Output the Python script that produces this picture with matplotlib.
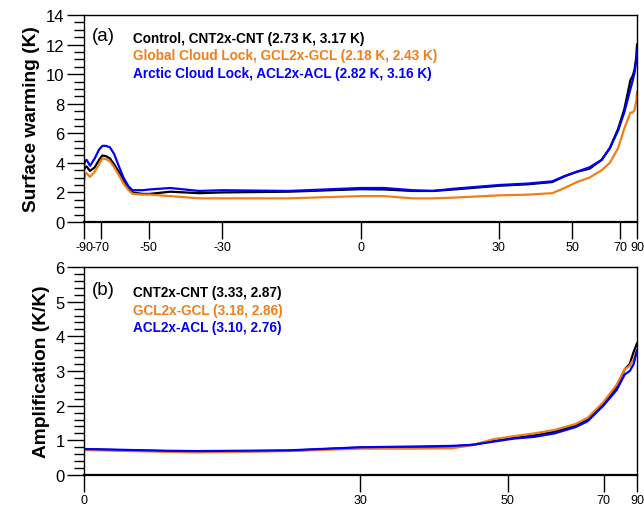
import numpy as np
import matplotlib
matplotlib.use('Agg')
import matplotlib.pyplot as plt

plt.rcParams['font.family'] = ['Liberation Sans', 'DejaVu Sans']

# Panel (a): surface warming (K) vs latitude
lat_a = [-90, -85, -82, -78, -74, -71, -69, -67, -65, -63, -61, -59, -57, -55.5,
         -52, -49.7, -43.5, -35.7, -30, -15, 0, 4.9, 10.9, 15.2, 19.7, 30, 37.2,
         43.9, 47.6, 51.5, 55.9, 60.7, 64.4, 68.7, 72.5, 77.5, 80, 82.3, 86, 90]
cnt_a = [3.5, 3.7, 3.75, 3.45, 3.7, 4.2, 4.5, 4.45, 4.3, 3.9, 3.4, 2.8, 2.3, 2.0,
         1.9, 1.9, 2.05, 1.95, 2.0, 2.05, 2.22, 2.2, 2.1, 2.1, 2.2, 2.45, 2.55,
         2.7, 3.1, 3.4, 3.6, 4.2, 5.0, 6.3, 7.6, 9.6, 9.9, 10.3, 11.2, 12.0]
gcl_a = [2.8, 3.2, 3.3, 3.05, 3.4, 3.9, 4.3, 4.25, 4.1, 3.7, 3.2, 2.6, 2.15, 1.9,
         1.85, 1.85, 1.75, 1.6, 1.6, 1.6, 1.75, 1.75, 1.6, 1.6, 1.65, 1.8, 1.85,
         1.95, 2.3, 2.7, 3.0, 3.5, 4.0, 5.0, 6.3, 7.4, 7.4, 7.6, 8.2, 8.8]
acl_a = [3.8, 4.1, 4.2, 3.8, 4.3, 4.9, 5.15, 5.15, 5.05, 4.6, 3.8, 3.0, 2.4, 2.15,
         2.15, 2.2, 2.3, 2.1, 2.15, 2.1, 2.3, 2.3, 2.15, 2.1, 2.25, 2.5, 2.6,
         2.75, 3.1, 3.4, 3.7, 4.2, 5.0, 6.2, 7.4, 9.0, 9.6, 10.1, 10.9, 11.6]

# Panel (b): polar amplification (K/K) vs latitude
lat_b = [0, 8.4, 11.8, 21.6, 30, 36.2, 41.7, 44.6, 47.7, 51, 54.5, 58.3, 62.7,
         65.6, 69.9, 74.4, 77.9, 80.7, 83.7, 90]
cnt_b = [0.74, 0.69, 0.67, 0.7, 0.79, 0.8, 0.82, 0.87, 0.98, 1.07, 1.14, 1.25, 1.43,
         1.6, 2.05, 2.55, 3.05, 3.2, 3.55, 3.8]
gcl_b = [0.72, 0.67, 0.65, 0.69, 0.76, 0.76, 0.77, 0.86, 1.03, 1.12, 1.2, 1.3, 1.47,
         1.65, 2.1, 2.6, 3.05, 3.15, 3.35, 3.6]
acl_b = [0.75, 0.7, 0.69, 0.71, 0.8, 0.82, 0.84, 0.87, 0.96, 1.05, 1.1, 1.2, 1.38,
         1.55, 2.0, 2.45, 2.9, 3.0, 3.2, 3.6]

labels_a = ['Control, CNT2x-CNT (2.73 K, 3.17 K)',
            'Global Cloud Lock, GCL2x-GCL (2.18 K, 2.43 K)',
            'Arctic Cloud Lock, ACL2x-ACL (2.82 K, 3.16 K)']
labels_b = ['CNT2x-CNT (3.33, 2.87)',
            'GCL2x-GCL (3.18, 2.86)',
            'ACL2x-ACL (3.10, 2.76)']
colors = ['black', '#F07F1A', '#0000FF']

ticks_a = [-90, -70, -50, -30, 0, 30, 50, 70, 90]
ticks_b = [0, 30, 50, 70, 90]


def fwd(x):
    return np.sin(np.deg2rad(x))


def inv(s):
    return np.rad2deg(np.arcsin(np.clip(s, -1, 1)))


fig = plt.figure(figsize=(6.44, 5.06), dpi=100)
W, H = 644, 506
ax1 = fig.add_axes([84 / W, 1 - 223 / H, 553 / W, 207 / H])
ax2 = fig.add_axes([84 / W, 1 - 476 / H, 553 / W, 208 / H])

for ax in (ax1, ax2):
    ax.set_xscale('function', functions=(fwd, inv))
    for sp in ax.spines.values():
        sp.set_linewidth(1.0)
    ax.spines['bottom'].set_linewidth(1.6)
    ax.tick_params(axis='both', which='major', direction='out', length=12, width=1.0)
    ax.tick_params(axis='y', which='minor', direction='out', length=7, width=1.0)
    ax.tick_params(axis='y', labelsize=12, pad=2)
    ax.tick_params(axis='x', labelsize=9, pad=2)
    ax.tick_params(axis='x', which='minor', bottom=False)

# panel (a)
for y, c in zip([cnt_a, gcl_a, acl_a], colors):
    ax1.plot(lat_a, y, color=c, lw=1.6)
ax1.set_xlim(-90, 90)
ax1.set_ylim(0, 14)
ax1.set_xticks(ticks_a)
ax1.set_xticklabels([str(t) for t in ticks_a])
ax1.set_yticks(np.arange(0, 15, 2))
ax1.set_yticks(np.arange(0, 14.01, 0.5), minor=True)
ax1.set_ylabel('Surface warming (K)', fontsize=13.8, fontweight='bold', labelpad=4)
ax1.text(0.015, 0.90, '(a)', transform=ax1.transAxes, fontsize=13.5, va='center')
for i, (lab, c) in enumerate(zip(labels_a, colors)):
    ax1.text(0.088, 0.89 - i * 0.085, lab, transform=ax1.transAxes, color=c,
             fontsize=9.8, fontweight='bold', va='center')

# panel (b)
for y, c in zip([cnt_b, gcl_b, acl_b], colors):
    ax2.plot(lat_b, y, color=c, lw=1.6)
ax2.set_xlim(0, 90)
ax2.set_ylim(0, 6)
ax2.set_xticks(ticks_b)
ax2.set_xticklabels([str(t) for t in ticks_b])
ax2.set_yticks(np.arange(0, 7, 1))
ax2.set_yticks(np.arange(0, 6.01, 0.2), minor=True)
ax2.set_ylabel('Amplification (K/K)', fontsize=13.8, fontweight='bold', labelpad=4)
ax2.text(0.015, 0.89, '(b)', transform=ax2.transAxes, fontsize=13.5, va='center')
for i, (lab, c) in enumerate(zip(labels_b, colors)):
    ax2.text(0.088, 0.88 - i * 0.085, lab, transform=ax2.transAxes, color=c,
             fontsize=9.8, fontweight='bold', va='center')

fig.savefig('out.png', dpi=100)
